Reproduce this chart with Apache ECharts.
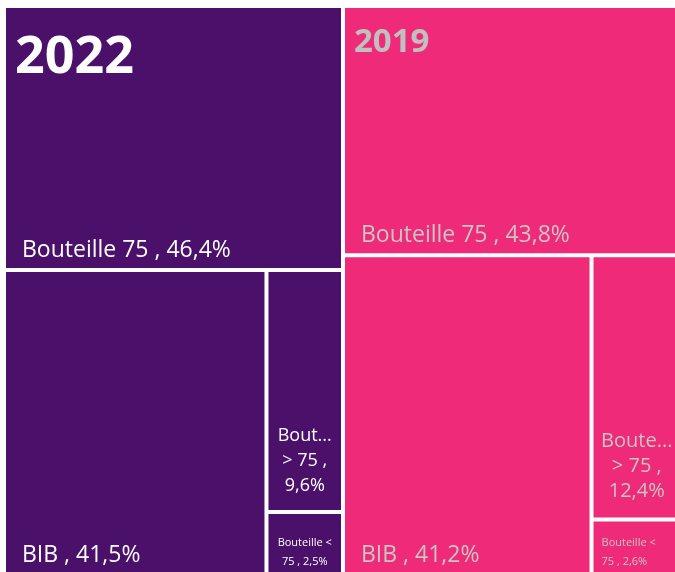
<!DOCTYPE html>
<html>
<head>
<meta charset="utf-8">
<script src="https://cdn.jsdelivr.net/npm/echarts@6/dist/echarts.min.js"></script>
<style>
html, body { margin: 0; padding: 0; background: #fff; }
#chart { width: 675px; height: 572px; }
</style>
</head>
<body>
<div id="chart"></div>
<script>
const years = ['2022', '2019']
const categories = ['Bouteille 75', 'BIB', 'Bouteille > 75', 'Bouteille < 75']
const shares2022 = [46.4, 41.5, 9.6, 2.5]
const shares2019 = [43.8, 41.2, 12.4, 2.6]
const labels2022 = ['Bouteille 75 , 46,4%', 'BIB , 41,5%', 'Bout...\n> 75 ,\n9,6%', 'Bouteille <\n75 , 2,5%']
const labels2019 = ['Bouteille 75 , 43,8%', 'BIB , 41,2%', 'Boute...\n> 75 ,\n12,4%', 'Bouteille <\n75 , 2,6%']

const font = '"Open Sans", sans-serif'
const look = {
	'2022': { fill: '#4a106a', text: '#ffffff', mid: 18, midPad: 12, left: 6, smallPos: 'insideBottom', smallAlign: 'center', smallPad: [0, 0, 2, 0] },
	'2019': { fill: '#ef2a79', text: '#c6c6c6', mid: 20, midPad: 14, left: 345, smallPos: 'insideBottomLeft', smallAlign: 'left', smallPad: [0, 0, 2, 8] }
}

function labelFor(i, text, year) {
	const l = look[year]
	if (i < 2) {
		return { formatter: text, position: 'insideBottomLeft', fontSize: 23, color: l.text, fontFamily: font, padding: [0, 0, 6, 16] }
	}
	if (i === 2) {
		return { formatter: text, position: 'insideBottom', align: 'center', fontSize: l.mid, lineHeight: 25, color: l.text, fontFamily: font, padding: [0, 0, l.midPad, 0] }
	}
	return { formatter: text, position: l.smallPos, align: l.smallAlign, fontSize: 11, lineHeight: 19, color: l.text, fontFamily: font, padding: l.smallPad }
}

function yearSeries(year, shares, labels) {
	return {
		type: 'treemap',
		name: year,
		left: look[year].left,
		top: 8,
		width: 335,
		height: 565,
		squareRatio: 1,
		roam: false,
		nodeClick: false,
		breadcrumb: { show: false },
		levels: [
			{ itemStyle: { gapWidth: 4, borderWidth: 0 } },
			{ itemStyle: { borderWidth: 0 } }
		],
		data: categories.map((c, i) => ({
			name: c,
			value: shares[i],
			itemStyle: { color: look[year].fill },
			label: labelFor(i, labels[i], year)
		}))
	}
}

const node = document.getElementById('chart')
const myChart = echarts.init(node)

const option = {
	animation: false,
	title: [
		{
			text: years[0],
			left: 10,
			top: 27,
			textStyle: { fontSize: 52, fontWeight: 'bold', color: '#ffffff', fontFamily: font }
		},
		{
			text: years[1],
			left: 349,
			top: 21,
			textStyle: { fontSize: 33, fontWeight: 'bold', color: '#c0c0c0', fontFamily: font }
		}
	],
	series: [
		yearSeries(years[0], shares2022, labels2022),
		yearSeries(years[1], shares2019, labels2019)
	]
}

myChart.setOption(option)
</script>
</body>
</html>
